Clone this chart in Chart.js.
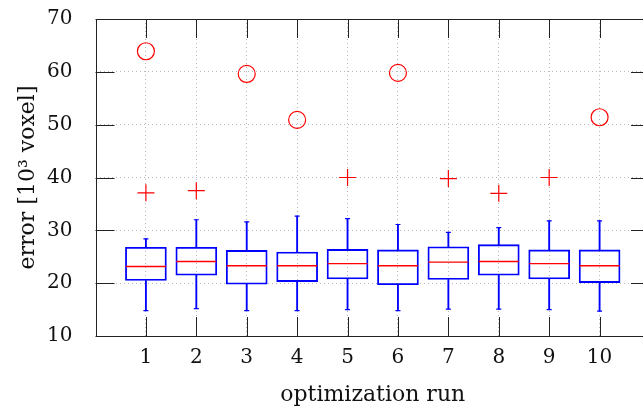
<!DOCTYPE html>
<html>
<head>
<meta charset="utf-8">
<script src="https://cdn.jsdelivr.net/npm/chart.js@4"></script>
<style>
  html, body { margin: 0; padding: 0; background: #fff; overflow: hidden; }
  #wrap { position: relative; width: 660px; height: 411px; }
</style>
</head>
<body>
<div id="wrap"><canvas id="c"></canvas></div>
<script>
// ---- data ----
const runs        = [1, 2, 3, 4, 5, 6, 7, 8, 9, 10];
const whiskerLow  = [14.8, 15.2, 14.8, 14.8, 15.0, 14.8, 15.1, 15.1, 15.0, 14.7];
const q1          = [20.5, 21.5, 19.8, 20.3, 20.8, 19.7, 20.7, 21.5, 20.8, 20.1];
const medians     = [23.15, 24.1, 23.3, 23.3, 23.7, 23.3, 24.0, 24.1, 23.7, 23.3];
const q3          = [26.8, 26.8, 26.2, 25.9, 26.4, 26.3, 26.9, 27.3, 26.3, 26.3];
const whiskerHigh = [28.4, 32.0, 31.6, 32.7, 32.2, 31.1, 29.6, 30.5, 31.8, 31.8];
const crossRuns   = [1, 2, 5, 7, 8, 9];
const crossVals   = [37.1, 37.5, 40.0, 39.8, 37.0, 40.0];
const circleRuns  = [1, 3, 4, 6, 10];
const circleVals  = [63.9, 59.6, 50.9, 59.8, 51.4];
const yTicks      = [10, 20, 30, 40, 50, 60, 70];
const xTickLabels = ['1','2','3','4','5','6','7','8','9','10'];

const BLUE = '#0000ff', RED = '#ff0000';
const FONT = { family: 'DejaVu Serif', size: 20 };
const TITLE_FONT = { family: 'DejaVu Serif', size: 22 };

const boxData   = runs.map((r, i) => ({ x: r, y: [q1[i], q3[i]] }));
const upperW    = runs.map((r, i) => ({ x: r, y: [q3[i], whiskerHigh[i]] }));
const lowerW    = runs.map((r, i) => ({ x: r, y: [whiskerLow[i], q1[i]] }));
const capPts    = runs.flatMap((r, i) => [{ x: r, y: whiskerHigh[i] }, { x: r, y: whiskerLow[i] }]);
const medPts    = runs.map((r, i) => ({ x: r, y: medians[i] }));
const crossPts  = crossRuns.map((r, i) => ({ x: r, y: crossVals[i] }));
const circlePts = circleRuns.map((r, i) => ({ x: r, y: circleVals[i] }));

// frame + inward mirrored ticks
const framePlugin = {
  id: 'frame',
  afterDatasetsDraw(chart) {
    const { ctx, chartArea: a, scales: { x, y } } = chart;
    const L = 19;
    ctx.save();
    ctx.strokeStyle = '#222';
    ctx.lineWidth = 1;
    ctx.beginPath();
    runs.forEach(r => {
      const px = Math.round(x.getPixelForValue(r)) + 0.5;
      ctx.moveTo(px, a.bottom); ctx.lineTo(px, a.bottom - L);
      ctx.moveTo(px, a.top); ctx.lineTo(px, a.top + L);
    });
    yTicks.forEach(v => {
      const py = Math.round(y.getPixelForValue(v)) + 0.5;
      ctx.moveTo(a.left, py); ctx.lineTo(a.left + L, py);
      ctx.moveTo(a.right, py); ctx.lineTo(a.right - L, py);
    });
    ctx.stroke();
    ctx.strokeRect(Math.round(a.left) + 0.5, Math.round(a.top) + 0.5,
                   Math.round(a.right - a.left), Math.round(a.bottom - a.top));
    ctx.restore();
  }
};

new Chart(document.getElementById('c'), {
  type: 'bar',
  data: {
    datasets: [
      { type: 'bar', data: lowerW, backgroundColor: BLUE, borderWidth: 0, barThickness: 1.2, grouped: false, order: 5 },
      { type: 'bar', data: upperW, backgroundColor: BLUE, borderWidth: 0, barThickness: 1.2, grouped: false, order: 5 },
      { type: 'bar', data: boxData, backgroundColor: 'rgba(0,0,0,0)', borderColor: BLUE, borderWidth: 1.2,
        borderSkipped: false, barThickness: 41, grouped: false, order: 4 },
      { type: 'line', data: capPts, showLine: false, pointStyle: 'line', pointRadius: 2.5,
        borderColor: BLUE, pointBorderWidth: 1.2, order: 3 },
      { type: 'line', data: medPts, showLine: false, pointStyle: 'line', pointRadius: 20,
        borderColor: RED, pointBorderWidth: 1.3, order: 2 },
      { type: 'line', data: crossPts, showLine: false, pointStyle: 'cross', pointRadius: 8.5,
        borderColor: RED, pointBorderWidth: 1.2, order: 1 },
      { type: 'line', data: circlePts, showLine: false, pointStyle: 'circle', pointRadius: 8.5,
        borderColor: RED, backgroundColor: 'rgba(0,0,0,0)', pointBorderWidth: 1.2, order: 1 }
    ]
  },
  options: {
    responsive: true,
    maintainAspectRatio: false,
    animation: false,
    events: [],
    layout: { autoPadding: false, padding: { left: 0, right: 10, top: 19, bottom: 0 } },
    plugins: { legend: { display: false }, tooltip: { enabled: false } },
    scales: {
      x: {
        type: 'linear', min: 0, max: 11, offset: false,
        afterFit(s) { s.height = 75; s.paddingLeft = 0; s.paddingRight = 0; },
        afterBuildTicks(s) { s.ticks = Array.from({ length: 12 }, (_, i) => ({ value: i })); },
        ticks: {
          autoSkip: false, padding: 10, color: '#111', font: FONT, maxRotation: 0,
          callback: v => (v >= 1 && v <= 10) ? xTickLabels[v - 1] : ''
        },
        grid: {
          offset: false, drawTicks: false, lineWidth: 1,
          color: c => (c.tick && c.tick.value >= 1 && c.tick.value <= 10) ? '#b8b8b8' : 'rgba(0,0,0,0)'
        },
        border: { display: false, dash: [1, 3] },
        title: { display: true, text: 'optimization run', color: '#111', font: TITLE_FONT, padding: { top: 0, bottom: 3 } }
      },
      y: {
        min: 10, max: 70,
        afterFit(s) { s.width = 95.5; s.paddingTop = 0; s.paddingBottom = 0; },
        afterBuildTicks(s) { s.ticks = yTicks.map(v => ({ value: v })); },
        ticks: { padding: 23, color: '#111', font: FONT },
        grid: {
          drawTicks: false, lineWidth: 1,
          color: c => (c.tick && c.tick.value > 10 && c.tick.value < 70) ? '#b8b8b8' : 'rgba(0,0,0,0)'
        },
        border: { display: false, dash: [1, 3] },
        title: { display: true, text: 'error [10³ voxel]', color: '#111', font: TITLE_FONT, padding: { top: 15, bottom: 0 } }
      }
    }
  },
  plugins: [framePlugin]
});
</script>
</body>
</html>
